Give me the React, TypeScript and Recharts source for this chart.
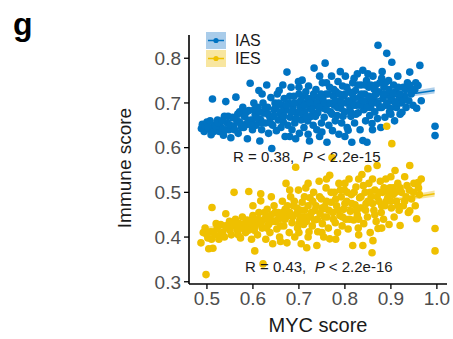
import React from "react";
import {
  ComposedChart,
  Scatter,
  Line,
  Area,
  XAxis,
  YAxis,
} from "recharts";

const FONT = "Arial, 'Liberation Sans', Helvetica, sans-serif";
const BLUE = "#0073C2";
const YELLOW = "#EFC000";

const groups = ["IAS", "IES"];
const xTicks = [0.5, 0.6, 0.7, 0.8, 0.9, 1.0];
const yTicks = [0.3, 0.4, 0.5, 0.6, 0.7, 0.8];
const statLabels = ["R = 0.38,", "R = 0.43,"];
const pLabels = ["< 2.2e-15", "< 2.2e-16"];

// IAS points [MYC score, immune score]
const iasPoints: [number, number][] = [
  [0.488, 0.643], [0.49, 0.652], [0.494, 0.636], [0.497, 0.648], [0.5, 0.657],
  [0.505, 0.641], [0.509, 0.629], [0.512, 0.709], [0.515, 0.65], [0.518, 0.638],
  [0.523, 0.662], [0.527, 0.636], [0.531, 0.645], [0.536, 0.628], [0.538, 0.67],
  [0.541, 0.703], [0.544, 0.655], [0.548, 0.64], [0.552, 0.622], [0.556, 0.668], [0.558, 0.648],
  [0.563, 0.713], [0.565, 0.66], [0.568, 0.632], [0.571, 0.68], [0.575, 0.645], [0.578, 0.69],
  [0.582, 0.67], [0.585, 0.652], [0.588, 0.62], [0.591, 0.683], [0.594, 0.744], [0.597, 0.662], [0.599, 0.64],
  [0.602, 0.7], [0.605, 0.675], [0.607, 0.65], [0.61, 0.69], [0.613, 0.728], [0.615, 0.615], [0.617, 0.662], [0.619, 0.64],
  [0.622, 0.7], [0.624, 0.678], [0.627, 0.655], [0.63, 0.74], [0.632, 0.69], [0.634, 0.632], [0.637, 0.668], [0.639, 0.712],
  [0.641, 0.598], [0.643, 0.65], [0.646, 0.685], [0.648, 0.7], [0.651, 0.638], [0.653, 0.72], [0.655, 0.662], [0.657, 0.728], [0.659, 0.676],
  [0.661, 0.645], [0.663, 0.695], [0.666, 0.658], [0.668, 0.71], [0.67, 0.625], [0.672, 0.684], [0.674, 0.769], [0.676, 0.65], [0.678, 0.7],
  [0.681, 0.668], [0.683, 0.735], [0.685, 0.64], [0.687, 0.69], [0.689, 0.715], [0.691, 0.655], [0.693, 0.62], [0.695, 0.678], [0.697, 0.7], [0.699, 0.748],
  [0.701, 0.632], [0.703, 0.69], [0.705, 0.662], [0.707, 0.751], [0.709, 0.715], [0.711, 0.645], [0.713, 0.68], [0.715, 0.725], [0.717, 0.7], [0.719, 0.66],
  [0.721, 0.738], [0.723, 0.615], [0.725, 0.688], [0.727, 0.67], [0.729, 0.71], [0.731, 0.65], [0.733, 0.778], [0.735, 0.695], [0.737, 0.73], [0.739, 0.64],
  [0.741, 0.678], [0.743, 0.712], [0.745, 0.625], [0.747, 0.7], [0.749, 0.655], [0.751, 0.745], [0.753, 0.688], [0.755, 0.668], [0.757, 0.789], [0.759, 0.72],
  [0.761, 0.612], [0.763, 0.7], [0.765, 0.65], [0.767, 0.735], [0.769, 0.68], [0.771, 0.76], [0.773, 0.638], [0.775, 0.715], [0.777, 0.695], [0.779, 0.66],
  [0.781, 0.725], [0.783, 0.672], [0.785, 0.748], [0.787, 0.63], [0.789, 0.705], [0.791, 0.688], [0.793, 0.655], [0.795, 0.738], [0.797, 0.715], [0.799, 0.68],
  [0.801, 0.76], [0.803, 0.7], [0.805, 0.645], [0.807, 0.639], [0.809, 0.725], [0.811, 0.69], [0.813, 0.67], [0.815, 0.612], [0.817, 0.745], [0.819, 0.71],
  [0.821, 0.655], [0.823, 0.728], [0.825, 0.695], [0.827, 0.765], [0.829, 0.678], [0.831, 0.712], [0.833, 0.64], [0.835, 0.74], [0.837, 0.7], [0.839, 0.773], [0.839, 0.616],
  [0.841, 0.685], [0.843, 0.72], [0.845, 0.66], [0.847, 0.75], [0.848, 0.612], [0.85, 0.705], [0.852, 0.735], [0.854, 0.672], [0.856, 0.69], [0.859, 0.654],
  [0.861, 0.76], [0.863, 0.715], [0.865, 0.68], [0.867, 0.74], [0.869, 0.7], [0.871, 0.665], [0.872, 0.829], [0.874, 0.725], [0.876, 0.69], [0.878, 0.645],
  [0.881, 0.77], [0.883, 0.71], [0.885, 0.735], [0.887, 0.668], [0.889, 0.695], [0.891, 0.811], [0.893, 0.72], [0.895, 0.75], [0.897, 0.68], [0.899, 0.688],
  [0.902, 0.791], [0.904, 0.705], [0.906, 0.74], [0.908, 0.66], [0.91, 0.725], [0.912, 0.69], [0.915, 0.76], [0.918, 0.71], [0.92, 0.675],
  [0.922, 0.7], [0.924, 0.679], [0.927, 0.735], [0.93, 0.715], [0.933, 0.69], [0.936, 0.745], [0.939, 0.705],
  [0.941, 0.769], [0.944, 0.72], [0.948, 0.695], [0.952, 0.73], [0.956, 0.688], [0.959, 0.739], [0.963, 0.784], [0.966, 0.705],
  [0.996, 0.648], [0.996, 0.627],
  [0.502, 0.645], [0.507, 0.66], [0.513, 0.635], [0.52, 0.648], [0.525, 0.655], [0.533, 0.66], [0.54, 0.64], [0.546, 0.67],
  [0.55, 0.65], [0.56, 0.64], [0.567, 0.675], [0.572, 0.655], [0.58, 0.645], [0.586, 0.68], [0.59, 0.66], [0.596, 0.65],
  [0.603, 0.685], [0.609, 0.665], [0.614, 0.68], [0.62, 0.655], [0.626, 0.69], [0.633, 0.675], [0.638, 0.655], [0.645, 0.67],
  [0.65, 0.69], [0.656, 0.7], [0.662, 0.68], [0.667, 0.67], [0.673, 0.695], [0.68, 0.715], [0.684, 0.68], [0.69, 0.7],
  [0.694, 0.665], [0.7, 0.72], [0.704, 0.705], [0.708, 0.675], [0.712, 0.695], [0.716, 0.67], [0.72, 0.71], [0.724, 0.7],
  [0.728, 0.685], [0.732, 0.72], [0.736, 0.67], [0.74, 0.7], [0.744, 0.69], [0.748, 0.72], [0.752, 0.71], [0.756, 0.7],
  [0.76, 0.685], [0.764, 0.72], [0.768, 0.7], [0.772, 0.675], [0.776, 0.73], [0.78, 0.705], [0.784, 0.69], [0.788, 0.72],
  [0.792, 0.7], [0.796, 0.67], [0.8, 0.72], [0.804, 0.735], [0.808, 0.705], [0.812, 0.68], [0.816, 0.72], [0.82, 0.695],
  [0.824, 0.675], [0.828, 0.74], [0.832, 0.695], [0.836, 0.72], [0.84, 0.705], [0.844, 0.74], [0.848, 0.69], [0.852, 0.715],
  [0.856, 0.74], [0.86, 0.7], [0.864, 0.73], [0.868, 0.72], [0.872, 0.7], [0.876, 0.745], [0.88, 0.69], [0.884, 0.72],
  [0.888, 0.745], [0.892, 0.7], [0.896, 0.73], [0.9, 0.71], [0.905, 0.72], [0.91, 0.7], [0.916, 0.735], [0.92, 0.72],
  [0.926, 0.705], [0.932, 0.73], [0.94, 0.74], [0.946, 0.73], [0.954, 0.745],
  [0.7, 0.735], [0.745, 0.76], [0.79, 0.77], [0.82, 0.755], [0.85, 0.765], [0.88, 0.755], [0.665, 0.74], [0.62, 0.72], [0.76, 0.745],
  [0.68, 0.625], [0.75, 0.635], [0.8, 0.625], [0.86, 0.64], [0.9, 0.675], [0.72, 0.63],
];

// IES points [MYC score, immune score]
const iesPoints: [number, number][] = [
  [0.487, 0.387], [0.492, 0.41], [0.496, 0.42], [0.498, 0.316], [0.502, 0.398], [0.504, 0.374], [0.508, 0.412], [0.511, 0.466], [0.513, 0.375], [0.517, 0.405],
  [0.522, 0.418], [0.526, 0.395], [0.53, 0.428], [0.534, 0.41], [0.538, 0.4], [0.541, 0.452], [0.545, 0.42], [0.549, 0.435], [0.553, 0.405], [0.556, 0.425],
  [0.559, 0.5], [0.562, 0.44], [0.566, 0.415], [0.57, 0.43], [0.573, 0.398], [0.577, 0.445], [0.58, 0.42], [0.584, 0.41], [0.587, 0.438], [0.591, 0.502],
  [0.594, 0.425], [0.597, 0.395], [0.6, 0.448], [0.603, 0.415], [0.604, 0.369], [0.607, 0.432], [0.61, 0.405], [0.613, 0.455], [0.617, 0.497], [0.617, 0.481],
  [0.62, 0.42], [0.622, 0.34], [0.625, 0.44], [0.628, 0.395], [0.631, 0.462], [0.634, 0.428], [0.637, 0.41], [0.64, 0.45], [0.643, 0.385], [0.646, 0.47],
  [0.649, 0.435], [0.652, 0.418], [0.655, 0.455], [0.658, 0.4], [0.661, 0.442], [0.664, 0.48], [0.667, 0.425], [0.67, 0.462], [0.672, 0.52], [0.674, 0.387],
  [0.676, 0.448], [0.679, 0.41], [0.682, 0.49], [0.685, 0.432], [0.688, 0.47], [0.691, 0.4], [0.693, 0.556], [0.695, 0.452], [0.697, 0.42], [0.699, 0.505],
  [0.702, 0.44], [0.705, 0.385], [0.707, 0.478], [0.71, 0.428], [0.712, 0.46], [0.715, 0.51], [0.717, 0.376], [0.719, 0.445], [0.722, 0.412], [0.724, 0.488],
  [0.727, 0.455], [0.729, 0.425], [0.732, 0.5], [0.734, 0.438], [0.737, 0.47], [0.739, 0.381], [0.741, 0.412], [0.744, 0.525], [0.746, 0.452], [0.749, 0.485],
  [0.751, 0.43], [0.754, 0.4], [0.756, 0.468], [0.759, 0.51], [0.761, 0.445], [0.764, 0.42], [0.767, 0.538], [0.767, 0.396], [0.77, 0.478], [0.772, 0.578],
  [0.774, 0.455], [0.777, 0.5], [0.779, 0.432], [0.782, 0.47], [0.784, 0.41], [0.787, 0.52], [0.789, 0.448], [0.792, 0.49], [0.794, 0.425], [0.797, 0.462],
  [0.799, 0.505], [0.802, 0.44], [0.804, 0.48], [0.807, 0.418], [0.809, 0.53], [0.812, 0.458], [0.814, 0.495], [0.817, 0.381], [0.819, 0.438], [0.822, 0.472],
  [0.824, 0.512], [0.827, 0.45], [0.829, 0.42], [0.832, 0.488], [0.834, 0.465], [0.837, 0.54], [0.839, 0.381], [0.841, 0.43], [0.844, 0.5], [0.846, 0.475],
  [0.849, 0.445], [0.85, 0.553], [0.852, 0.52], [0.855, 0.41], [0.857, 0.49], [0.859, 0.365], [0.861, 0.392], [0.863, 0.46], [0.865, 0.505], [0.868, 0.435],
  [0.87, 0.56], [0.872, 0.419], [0.874, 0.48], [0.877, 0.525], [0.879, 0.455], [0.882, 0.5], [0.884, 0.44], [0.887, 0.47], [0.889, 0.53], [0.891, 0.648],
  [0.893, 0.488], [0.896, 0.428], [0.898, 0.51], [0.901, 0.465], [0.902, 0.609], [0.905, 0.495], [0.907, 0.445], [0.909, 0.549], [0.912, 0.48], [0.915, 0.52],
  [0.918, 0.46], [0.92, 0.426], [0.923, 0.5], [0.927, 0.47], [0.93, 0.535], [0.933, 0.49], [0.935, 0.515], [0.938, 0.455], [0.941, 0.56], [0.941, 0.459],
  [0.945, 0.485], [0.949, 0.5], [0.953, 0.47], [0.956, 0.441], [0.959, 0.522], [0.962, 0.495], [0.966, 0.53], [0.996, 0.419], [0.996, 0.369],
  [0.5, 0.405], [0.51, 0.395], [0.52, 0.43], [0.53, 0.405], [0.54, 0.425], [0.55, 0.415], [0.56, 0.43], [0.568, 0.405],
  [0.575, 0.42], [0.582, 0.43], [0.59, 0.415], [0.598, 0.44], [0.605, 0.425], [0.612, 0.44], [0.618, 0.43], [0.625, 0.455],
  [0.63, 0.42], [0.636, 0.445], [0.642, 0.435], [0.648, 0.455], [0.654, 0.44], [0.66, 0.425], [0.665, 0.455], [0.67, 0.44],
  [0.675, 0.47], [0.68, 0.455], [0.686, 0.445], [0.69, 0.48], [0.696, 0.465], [0.7, 0.43], [0.704, 0.46], [0.708, 0.445],
  [0.712, 0.49], [0.716, 0.435], [0.72, 0.47], [0.725, 0.445], [0.73, 0.48], [0.735, 0.46], [0.74, 0.44], [0.745, 0.49],
  [0.75, 0.465], [0.755, 0.445], [0.76, 0.48], [0.765, 0.46], [0.77, 0.5], [0.775, 0.44], [0.78, 0.485], [0.785, 0.46],
  [0.79, 0.505], [0.795, 0.445], [0.8, 0.475], [0.805, 0.5], [0.81, 0.44], [0.815, 0.475], [0.82, 0.5], [0.825, 0.46],
  [0.83, 0.44], [0.835, 0.49], [0.84, 0.515], [0.845, 0.46], [0.85, 0.48], [0.855, 0.5], [0.86, 0.475], [0.865, 0.45],
  [0.87, 0.49], [0.875, 0.5], [0.88, 0.47], [0.885, 0.51], [0.89, 0.48], [0.895, 0.5], [0.9, 0.48], [0.905, 0.51],
  [0.91, 0.5], [0.915, 0.47], [0.92, 0.51], [0.93, 0.48], [0.94, 0.505], [0.95, 0.52], [0.96, 0.51],
  [0.68, 0.505], [0.72, 0.52], [0.76, 0.53], [0.8, 0.52], [0.83, 0.53], [0.86, 0.53], [0.9, 0.535], [0.64, 0.49], [0.6, 0.47],
  [0.66, 0.39], [0.72, 0.4], [0.78, 0.395], [0.83, 0.405], [0.88, 0.42], [0.7, 0.41], [0.75, 0.41],
];

// linear fit: [x, fitted, lower, upper]
const iasFit: [number, number, number, number][] = [
  [0.485, 0.65, 0.642, 0.658],
  [0.74, 0.689, 0.686, 0.692],
  [0.995, 0.728, 0.721, 0.735],
];
const iesFit: [number, number, number, number][] = [
  [0.49, 0.414, 0.406, 0.422],
  [0.74, 0.455, 0.452, 0.458],
  [0.995, 0.497, 0.49, 0.504],
];

const toPts = (arr: [number, number][]) => arr.map(([x, y]) => ({ x, y }));
const toFit = (arr: [number, number, number, number][]) =>
  arr.map(([x, y, lo, hi]) => ({ x, y, band: [lo, hi] }));

const dot = (color: string) => (p: any) =>
  <circle cx={p.cx} cy={p.cy} r={3.8} fill={color} />;

const tickStyle = { fontSize: 19, fill: "#4D4D4D", fontFamily: FONT };

function LegendKey({ y, color, light, label }: { y: number; color: string; light: string; label: string }) {
  return (
    <g>
      <rect x={206} y={y} width={20} height={17} fill={light} />
      <line x1={208} x2={224} y1={y + 8.5} y2={y + 8.5} stroke={color} strokeWidth={1.5} />
      <circle cx={216} cy={y + 8.5} r={2.6} fill={color} />
      <text x={235} y={y + 14} fontSize={16} fill="#1a1a1a" fontFamily={FONT}>{label}</text>
    </g>
  );
}

export default function App() {
  return (
    <div style={{ position: "absolute", left: 0, top: 0, width: 453, height: 339, background: "#fff" }}>
      <ComposedChart width={453} height={339} margin={{ top: 35, right: 6, left: 0, bottom: 0 }}>
        <XAxis
          type="number"
          dataKey="x"
          domain={[0.461, 1.022]}
          ticks={xTicks}
          tickFormatter={(v) => v.toFixed(1)}
          allowDataOverflow
          height={55}
          tick={tickStyle}
          tickSize={5}
          tickMargin={3}
          axisLine={{ stroke: "#000", strokeWidth: 1.6 }}
          tickLine={{ stroke: "#000", strokeWidth: 1.3 }}
        />
        <YAxis
          type="number"
          dataKey="y"
          domain={[0.295, 0.852]}
          ticks={yTicks}
          tickFormatter={(v) => v.toFixed(1)}
          allowDataOverflow
          width={189}
          tick={tickStyle}
          tickSize={5}
          tickMargin={3}
          axisLine={{ stroke: "#000", strokeWidth: 1.6 }}
          tickLine={{ stroke: "#000", strokeWidth: 1.3 }}
        />
        <Scatter name={groups[0]} data={toPts(iasPoints)} shape={dot(BLUE)} isAnimationActive={false} />
        <Scatter name={groups[1]} data={toPts(iesPoints)} shape={dot(YELLOW)} isAnimationActive={false} />
        <Area data={toFit(iasFit)} dataKey="band" type="monotone" stroke="none" fill="#9CC4E6" fillOpacity={0.8} isAnimationActive={false} />
        <Area data={toFit(iesFit)} dataKey="band" type="monotone" stroke="none" fill="#F5DE8A" fillOpacity={0.8} isAnimationActive={false} />
        <Line data={toFit(iasFit)} dataKey="y" type="linear" stroke={BLUE} strokeWidth={1.6} dot={false} isAnimationActive={false} />
        <Line data={toFit(iesFit)} dataKey="y" type="linear" stroke={YELLOW} strokeWidth={1.6} dot={false} isAnimationActive={false} />
      </ComposedChart>
      <svg width={453} height={339} style={{ position: "absolute", left: 0, top: 0, pointerEvents: "none" }}>
        <text x={13} y={35} fontSize={32} fontWeight="bold" fill="#000" fontFamily={FONT}>g</text>
        <LegendKey y={32} color={BLUE} light="#A9CCEA" label={groups[0]} />
        <LegendKey y={50} color={YELLOW} light="#F8E6A0" label={groups[1]} />
        <text x={233} y={162} fontSize={15} fill="#1a1a1a" fontFamily={FONT} xmlSpace="preserve">
          {statLabels[0]}{"  "}<tspan fontStyle="italic">P</tspan> {pLabels[0]}
        </text>
        <text x={245} y={272} fontSize={15} fill="#1a1a1a" fontFamily={FONT} xmlSpace="preserve">
          {statLabels[1]}{"  "}<tspan fontStyle="italic">P</tspan> {pLabels[1]}
        </text>
        <text
          transform="translate(131,168) rotate(-90)"
          textAnchor="middle"
          fontSize={19}
          fill="#1a1a1a"
          fontFamily={FONT}
        >
          Immune score
        </text>
        <text x={318} y={332} textAnchor="middle" fontSize={20} fill="#1a1a1a" fontFamily={FONT}>
          MYC score
        </text>
      </svg>
    </div>
  );
}
